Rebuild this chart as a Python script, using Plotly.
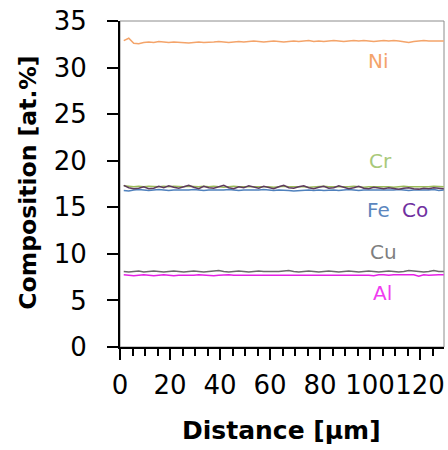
import plotly.graph_objects as go

distance = [1.5 + 2 * i for i in range(65)]

ni = [32.90, 33.15, 32.60, 32.55, 32.70, 32.75, 32.70, 32.80, 32.75, 32.70, 32.75, 32.70, 32.70,
      32.65, 32.70, 32.75, 32.70, 32.70, 32.75, 32.80, 32.75, 32.70, 32.75, 32.80, 32.75, 32.80,
      32.85, 32.80, 32.75, 32.80, 32.85, 32.80, 32.75, 32.80, 32.85, 32.80, 32.85, 32.90, 32.80,
      32.85, 32.80, 32.85, 32.90, 32.85, 32.80, 32.85, 32.90, 32.85, 32.90, 32.85, 32.80, 32.85,
      32.90, 32.85, 32.90, 32.85, 32.80, 32.70, 32.80, 32.85, 32.90, 32.85, 32.85, 32.90, 32.85]

cr = [17.30, 17.25, 17.20, 17.25, 17.20, 17.25, 17.20, 17.20, 17.25, 17.20, 17.25, 17.20, 17.20,
      17.25, 17.20, 17.20, 17.25, 17.20, 17.25, 17.20, 17.15, 17.20, 17.25, 17.20, 17.20, 17.25,
      17.20, 17.25, 17.20, 17.20, 17.15, 17.20, 17.25, 17.20, 17.20, 17.25, 17.20, 17.15, 17.20,
      17.20, 17.25, 17.20, 17.20, 17.15, 17.20, 17.20, 17.25, 17.20, 17.15, 17.20, 17.20, 17.25,
      17.20, 17.20, 17.15, 17.20, 17.25, 17.20, 17.20, 17.15, 17.20, 17.20, 17.25, 17.20, 17.20]

co = [17.35, 17.10, 17.00, 17.05, 17.20, 17.00, 17.05, 17.25, 17.10, 17.30, 17.15, 17.05, 17.20,
      17.35, 17.15, 17.00, 17.25, 17.10, 17.05, 17.20, 17.35, 17.10, 17.00, 17.20, 17.10, 17.30,
      17.15, 17.05, 17.25, 17.10, 17.00, 17.20, 17.35, 17.10, 17.05, 17.20, 17.30, 17.10, 17.00,
      17.15, 17.25, 17.05, 17.10, 17.30, 17.15, 17.00, 17.10, 17.25, 17.05, 17.00, 17.15, 17.05,
      17.00, 17.10, 17.05, 16.95, 17.05, 17.10, 17.00, 16.95, 17.05, 17.00, 17.10, 17.05, 17.00]

fe = [16.80, 16.75, 16.85, 16.90, 16.85, 16.80, 16.85, 16.90, 16.85, 16.80, 16.85, 16.85, 16.80,
      16.85, 16.90, 16.85, 16.80, 16.85, 16.85, 16.80, 16.85, 16.90, 16.85, 16.80, 16.85, 16.85,
      16.80, 16.85, 16.90, 16.85, 16.80, 16.85, 16.85, 16.80, 16.75, 16.80, 16.85, 16.85, 16.80,
      16.85, 16.80, 16.85, 16.85, 16.80, 16.85, 16.90, 16.85, 16.80, 16.85, 16.85, 16.80, 16.85,
      16.85, 16.80, 16.85, 16.90, 16.85, 16.80, 16.85, 16.85, 16.80, 16.85, 16.90, 16.80, 16.85]

cu = [8.10, 8.05, 8.10, 8.15, 8.05, 8.10, 8.15, 8.10, 8.05, 8.10, 8.15, 8.10, 8.05,
      8.10, 8.15, 8.10, 8.05, 8.10, 8.15, 8.20, 8.10, 8.05, 8.10, 8.15, 8.10, 8.05,
      8.10, 8.15, 8.10, 8.10, 8.05, 8.10, 8.15, 8.20, 8.10, 8.05, 8.10, 8.15, 8.10,
      8.05, 8.10, 8.15, 8.10, 8.05, 8.10, 8.15, 8.10, 8.05, 8.10, 8.15, 8.10, 8.05,
      8.10, 8.15, 8.10, 8.05, 8.10, 8.20, 8.15, 8.10, 8.05, 8.10, 8.20, 8.10, 8.10]

al = [7.75, 7.70, 7.65, 7.70, 7.75, 7.70, 7.65, 7.70, 7.75, 7.70, 7.65, 7.70, 7.70,
      7.65, 7.70, 7.75, 7.70, 7.70, 7.65, 7.70, 7.75, 7.75, 7.70, 7.70, 7.75, 7.70,
      7.75, 7.70, 7.70, 7.75, 7.75, 7.70, 7.75, 7.70, 7.70, 7.75, 7.70, 7.75, 7.75,
      7.70, 7.75, 7.70, 7.75, 7.75, 7.70, 7.75, 7.75, 7.70, 7.75, 7.70, 7.65, 7.75,
      7.75, 7.70, 7.75, 7.75, 7.70, 7.75, 7.75, 7.60, 7.75, 7.70, 7.75, 7.75, 7.75]

series = [
    ("Ni", ni, "#F4A46A"),
    ("Cr", cr, "#9BBB59"),
    ("Fe", fe, "#4F81BD"),
    ("Co", co, "#5E3A5E"),
    ("Cu", cu, "#6B6B6B"),
    ("Al", al, "#E620E6"),
]

labels = ["Ni", "Cr", "Fe", "Co", "Cu", "Al"]
label_x = [103.2, 104, 103.2, 118, 105.2, 104.8]
label_y = [30.7, 20.0, 14.7, 14.7, 10.2, 5.8]
label_colors = ["#F4A46A", "#A9C97A", "#5B86BE", "#7030A0", "#7F7F7F", "#F03CF0"]

x_ticks = [0, 20, 40, 60, 80, 100, 120]
y_ticks = [0, 5, 10, 15, 20, 25, 30, 35]

fig = go.Figure()
for name, vals, col in series:
    fig.add_trace(go.Scatter(x=distance, y=vals, mode="lines", name=name,
                             line=dict(color=col, width=1.5), showlegend=False))

for t, lx, ly, c in zip(labels, label_x, label_y, label_colors):
    fig.add_annotation(x=lx, y=ly, text=t, showarrow=False,
                       font=dict(family="DejaVu Sans", size=20, color=c))

fig.add_shape(type="rect", xref="paper", yref="paper", x0=0, x1=1, y0=0, y1=1,
              line=dict(color="#8C8C8C", width=1), layer="below")

fig.add_annotation(xref="paper", yref="paper", x=0.497, y=-0.205, yanchor="top",
                   text="<b>Distance [µm]</b>", showarrow=False,
                   font=dict(family="DejaVu Sans", size=25, color="black"))
fig.add_annotation(xref="paper", yref="paper", x=-0.285, y=0.503, xanchor="center",
                   yanchor="middle",
                   text="<b>Composition [at.%]</b>", showarrow=False, textangle=-90,
                   font=dict(family="DejaVu Sans", size=23.5, color="black"))

fig.update_layout(
    width=448, height=450,
    margin=dict(l=120, r=4, t=21, b=103),
    paper_bgcolor="white", plot_bgcolor="white",
    font=dict(family="DejaVu Sans", color="black"),
    xaxis=dict(range=[0, 129.6], tickvals=x_ticks, ticktext=[str(v) for v in x_ticks],
               ticks="outside", ticklen=11, tickwidth=1.5, tickcolor="black",
               showline=True, linecolor="black", linewidth=2, showgrid=False, zeroline=False,
               tickangle=0, tickfont=dict(size=26, family="DejaVu Sans"),
               ticklabelstandoff=3,
               minor=dict(dtick=5, tick0=0, ticks="outside", ticklen=7, tickwidth=1.5,
                          tickcolor="black", showgrid=False)),
    yaxis=dict(range=[0, 35], tickvals=y_ticks, ticks="outside", ticklen=11, tickwidth=1.5,
               tickcolor="black", showline=True, linecolor="black", linewidth=2,
               showgrid=False, zeroline=False, tickfont=dict(size=26, family="DejaVu Sans"),
               ticklabelstandoff=15),
)

fig.write_html("out.html", config={"displayModeBar": False},
               post_script="document.body.style.margin='0px';")
